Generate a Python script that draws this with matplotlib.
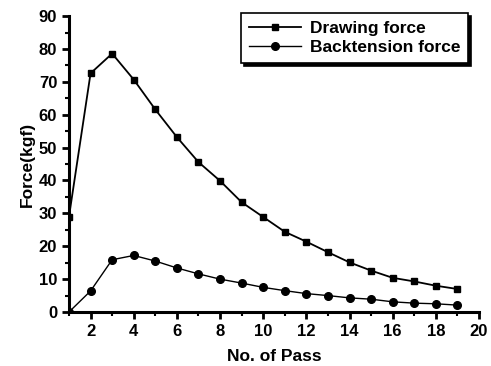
import matplotlib
matplotlib.use('Agg')
import matplotlib.pyplot as plt
from matplotlib.ticker import MultipleLocator

plt.rcParams['font.family'] = ['Liberation Sans', 'DejaVu Sans']
plt.rcParams['font.weight'] = 'bold'

# data
passes = list(range(1, 20))
drawing_force = [29, 72.6, 78.6, 70.7, 61.6, 53.2, 45.6, 39.9, 33.4, 28.9,
                 24.4, 21.4, 18.2, 15.1, 12.6, 10.4, 9.3, 8.0, 7.0]
backtension_force = [0, 6.4, 15.9, 17.2, 15.5, 13.4, 11.6, 10.0, 8.8, 7.5,
                     6.5, 5.6, 5.0, 4.3, 3.9, 3.1, 2.7, 2.5, 2.1]

fig = plt.figure(figsize=(4.91, 3.66), dpi=100)
ax = fig.add_axes([0.1405, 0.1475, 0.835, 0.8085])

ax.plot(passes, drawing_force, color='black', lw=1.3, marker='s', ms=5,
        label='Drawing force')
ax.plot(passes, backtension_force, color='black', lw=1.0, marker='o', ms=5.5,
        label='Backtension force')

ax.set_xlim(1, 20)
ax.set_ylim(0, 90)
ax.xaxis.set_minor_locator(MultipleLocator(1))
ax.yaxis.set_major_locator(MultipleLocator(10))
ax.yaxis.set_minor_locator(MultipleLocator(5))
ax.set_xticks(range(2, 21, 2))

for side in ['top', 'right']:
    ax.spines[side].set_visible(False)
for side in ['left', 'bottom']:
    ax.spines[side].set_linewidth(2.2)

ax.tick_params(which='major', direction='out', length=5, width=2,
               labelsize=12)
ax.tick_params(which='minor', direction='out', length=3, width=1.5)
for lbl in ax.get_xticklabels() + ax.get_yticklabels():
    lbl.set_fontweight('bold')

ax.set_xlabel('No. of Pass', fontsize=12.5, fontweight='bold', labelpad=7)
ax.set_ylabel('Force(kgf)', fontsize=12.5, fontweight='bold', labelpad=3)

leg = ax.legend(loc='upper right', bbox_to_anchor=(0.995, 1.04), fancybox=False,
                shadow={'color': 'black', 'alpha': 1}, edgecolor='black',
                fontsize=12.5, handlelength=3, borderpad=0.45,
                labelspacing=0.25, handletextpad=0.5)
leg.get_frame().set_linewidth(1.2)

fig.savefig('out.png', dpi=100)
